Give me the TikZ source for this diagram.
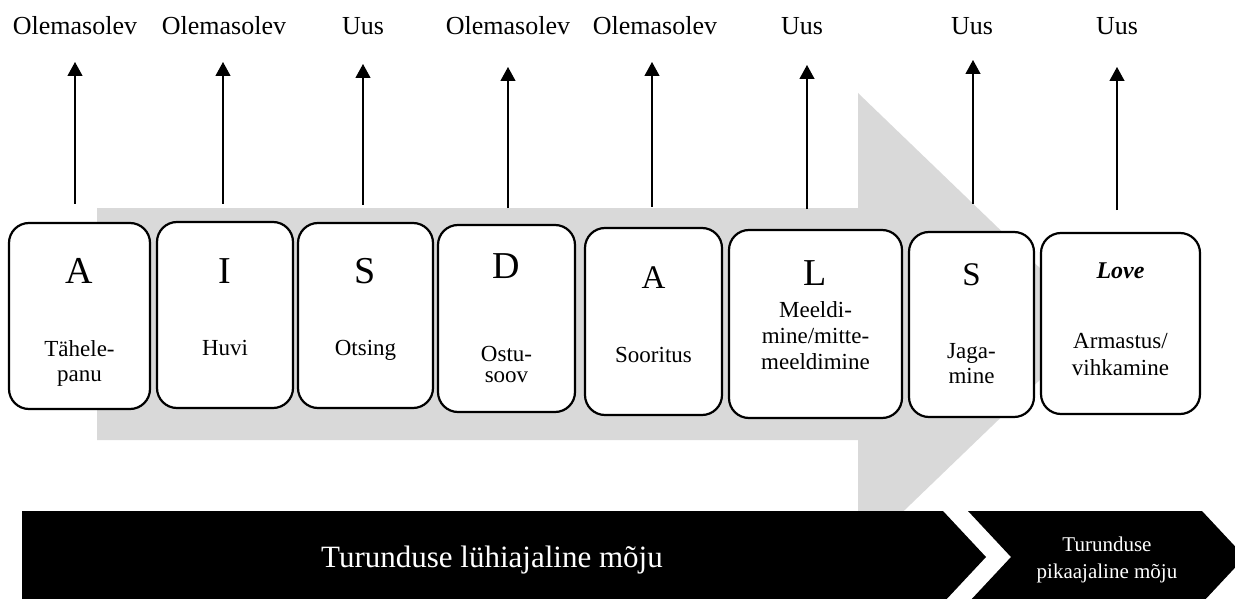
\documentclass[tikz,border=0pt]{standalone}
\usepackage{fontspec}
\setmainfont{Liberation Serif}
\usetikzlibrary{arrows.meta}
\definecolor{arrowgray}{HTML}{D9D9D9}
\tikzset{
  box/.style={draw=black, line width=2.2pt, rounded corners=20pt, fill=white, inner sep=0pt},
  letter/.style={anchor=base, inner sep=0pt, font=\fontsize{38}{40}\selectfont},
  smallletter/.style={anchor=base, inner sep=0pt, font=\fontsize{33}{36}\selectfont},
  sub/.style={anchor=base, inner sep=0pt, align=center, font=\fontsize{23}{25}\selectfont},
  toplabel/.style={anchor=base, inner sep=0pt, font=\fontsize{26}{28}\selectfont},
  uparrow/.style={line width=1.2pt, -{Triangle[length=14pt,width=15pt]}},
}
\begin{document}
\begin{tikzpicture}[x=1pt,y=-1pt]
\useasboundingbox (0,0) rectangle (1235,599);
\clip (0,0) rectangle (1235,599);
% big gray arrow
\fill[arrowgray] (97,208) -- (858,208) -- (858,93) -- (1098,324) -- (858,555) -- (858,440) -- (97,440) -- cycle;
% black chevrons
\fill[black] (22,511) -- (943,511) -- (986,557) -- (943,603) -- (22,603) -- cycle;
\fill[black] (968,511) -- (1202,511) -- (1245,557) -- (1202,603) -- (968,603) -- (1011,557) -- cycle;
\node[anchor=base, inner sep=0pt, text=white, font=\fontsize{31}{34}\selectfont] (short) at (492,567) {Turunduse lühiajaline mõju};
\node[anchor=base, inner sep=0pt, text=white, align=center, font=\fontsize{21}{27}\selectfont] (long) at (1107,578) {Turunduse\\pikaajaline mõju};
% boxes
\node[box, minimum width=141pt, minimum height=186pt] (b1) at (79.5,316) {};
\node[box, minimum width=136pt, minimum height=186pt] (b2) at (225,315) {};
\node[box, minimum width=135pt, minimum height=185pt] (b3) at (365.5,315.5) {};
\node[box, minimum width=137pt, minimum height=187pt] (b4) at (506.5,318.5) {};
\node[box, minimum width=137pt, minimum height=187pt] (b5) at (653.5,321.5) {};
\node[box, minimum width=173pt, minimum height=188pt] (b6) at (815.5,324) {};
\node[box, minimum width=125pt, minimum height=185pt] (b7) at (971.5,324.5) {};
\node[box, minimum width=159pt, minimum height=181pt] (b8) at (1120.5,323.5) {};
% letters
\node[letter] (k1) at (79.5,283) {A};
\node[letter] (k2) at (225,283) {I};
\node[letter] (k3) at (365.5,283) {S};
\node[letter] (k4) at (506.5,278) {D};
\node[smallletter] (k5) at (653.5,288) {A};
\node[letter] (k6) at (815.5,285) {L};
\node[smallletter] (k7) at (971.5,285) {S};
\node[anchor=base, inner sep=0pt, font=\fontsize{24}{26}\selectfont\bfseries\itshape] (k8) at (1120.5,278) {Love};
% sub texts (base = baseline of last line)
\node[sub, font=\fontsize{23}{25}\selectfont] (t1) at (79.5,381) {Tähele-\\panu};
\node[sub] (t2) at (225,355) {Huvi};
\node[sub] (t3) at (365.5,355) {Otsing};
\node[sub, font=\fontsize{23}{21}\selectfont] (t4) at (506.5,382) {Ostu-\\soov};
\node[sub] (t5) at (653.5,362) {Sooritus};
\node[sub, font=\fontsize{23}{26}\selectfont] (t6) at (815.5,369) {Meeldi-\\mine/mitte-\\meeldimine};
\node[sub] (t7) at (971.5,383) {Jaga-\\mine};
\node[sub, font=\fontsize{23}{27}\selectfont] (t8) at (1120.5,375) {Armastus/\\vihkamine};
% top labels
\node[toplabel] (o1) at (75,35) {Olemasolev};
\node[toplabel] (o2) at (224,35) {Olemasolev};
\node[toplabel] (o3) at (363,35) {Uus};
\node[toplabel] (o4) at (508,35) {Olemasolev};
\node[toplabel] (o5) at (655,35) {Olemasolev};
\node[toplabel] (o6) at (802,35) {Uus};
\node[toplabel] (o7) at (972,35) {Uus};
\node[toplabel] (o8) at (1117,35) {Uus};
% arrow ends
\coordinate (s1) at (75,204);   \coordinate (e1) at (75,62);
\coordinate (s2) at (223,204);  \coordinate (e2) at (223,62);
\coordinate (s3) at (363,205);  \coordinate (e3) at (363,64);
\coordinate (s4) at (508,208);  \coordinate (e4) at (508,67);
\coordinate (s5) at (652,207);  \coordinate (e5) at (652,62);
\coordinate (s6) at (807,209);  \coordinate (e6) at (807,65);
\coordinate (s7) at (973,204);  \coordinate (e7) at (973,60);
\coordinate (s8) at (1117,210); \coordinate (e8) at (1117,67);
\foreach \i in {1,...,8} {\draw[uparrow] (s\i) -- (e\i);}
\end{tikzpicture}
\end{document}
